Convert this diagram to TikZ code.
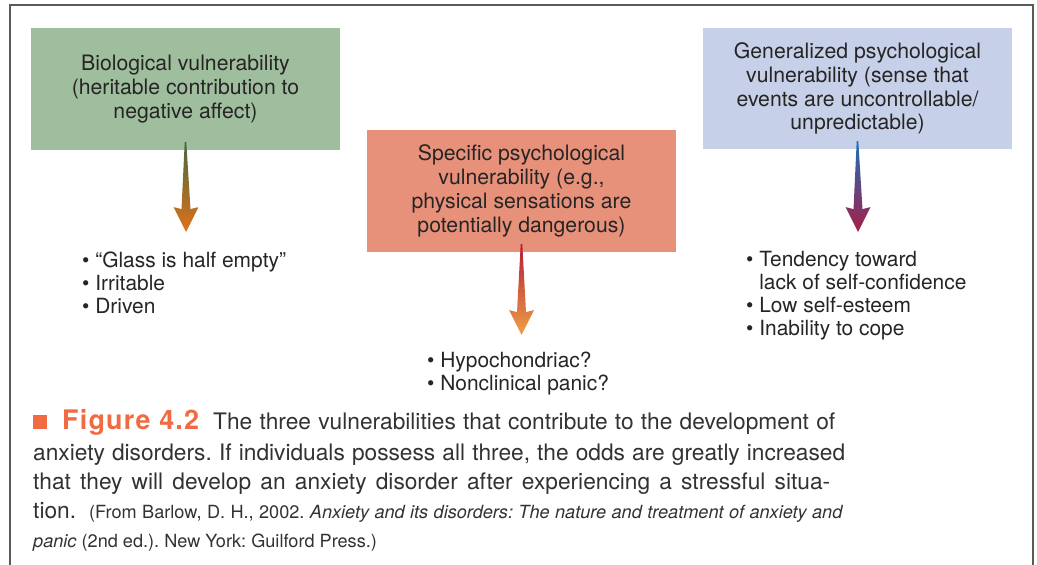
\documentclass[tikz,border=0pt]{standalone}
\usepackage{fontspec}
\setmainfont{TeX Gyre Heros}
\usetikzlibrary{calc}
\frenchspacing
\definecolor{boxgreen}{RGB}{159,190,157}
\definecolor{boxred}{RGB}{232,145,122}
\definecolor{boxblue}{RGB}{198,208,232}
\definecolor{figorange}{RGB}{240,106,66}
\definecolor{txt}{RGB}{38,36,36}
\definecolor{captxt}{RGB}{50,50,50}
\definecolor{framegray}{RGB}{90,90,90}
\definecolor{gA}{RGB}{70,105,60}
\definecolor{gB}{RGB}{222,114,28}
\definecolor{rA}{RGB}{178,28,52}
\definecolor{rB}{RGB}{238,160,72}
\definecolor{bA}{RGB}{28,112,184}
\definecolor{bB}{RGB}{166,30,72}
\newcommand{\gradarrow}[4]{%
  \shade[top color=#3,bottom color=#4]
    let \p1=(#1), \p2=(#2) in
    (\x1-0.8pt,\y1+8pt) -- (\x1+0.8pt,\y1+8pt) -- (\x2+4.5pt,\y2+23pt)
    -- (\x2+12.5pt,\y2+25pt) -- (\x2,\y2) -- (\x2-12.5pt,\y2+25pt)
    -- (\x2-4.5pt,\y2+23pt) -- cycle;}
\begin{document}
\begin{tikzpicture}[x=1bp,y=-1bp,
  vbox/.style={minimum width=309bp,minimum height=122bp,inner sep=0pt,
    align=center,text=txt,font=\fontsize{21.3}{24}\selectfont},
  item/.style={anchor=base west,inner sep=0pt,text=txt,font=\fontsize{21}{24}\selectfont},
  capline/.style={anchor=base west,inner sep=0pt,text=captxt,font=\fontsize{22.8}{29}\selectfont},
  cite/.style={font=\fontsize{18.2}{20}\selectfont}]
\useasboundingbox (0,0) rectangle (1037,565);
\fill[white] (0,0) rectangle (1037,565);
% frame
\draw[framegray,line width=1.3bp] (10,565) -- (10,5) -- (1033,5) -- (1033,565);
% boxes
\node[vbox,fill=boxgreen] (bio) at (185.5,89)
  {Biological vulnerability\\(heritable contribution to\\negative affect)};
\node[vbox,fill=boxred] (spec) at (521.5,191)
  {Specific psychological\\vulnerability (e.g.,\\physical sensations are\\potentially dangerous)};
\node[vbox,fill=boxblue,minimum height=121bp] (gen) at (857.5,88.5)
  {Generalized psychological\\vulnerability (sense that\\events are uncontrollable/\\unpredictable)};
% arrow tips
\coordinate (biotip) at (186,232);
\coordinate (spectip) at (521.5,335);
\coordinate (gentip) at (858,232);
\gradarrow{bio.south}{biotip}{gA}{gB}
\gradarrow{spec.south}{spectip}{rA}{rB}
\gradarrow{gen.south}{gentip}{bA}{bB}
% lists
\node[item] (b1) at (82,268) {\textbullet\ “Glass is half empty”};
\node[item] (b2) at (82,290.5) {\textbullet\ Irritable};
\node[item] (b3) at (82,313) {\textbullet\ Driven};
\node[item] (s1) at (427,367) {\textbullet\ Hypochondriac?};
\node[item] (s2) at (427,390.5) {\textbullet\ Nonclinical panic?};
\node[item] (g1) at (746,267) {\textbullet\ Tendency toward};
\node[item] (g2) at (746,290) {\phantom{\textbullet\ }lack of self-confidence};
\node[item] (g3) at (746,312.5) {\textbullet\ Low self-esteem};
\node[item] (g4) at (746,335) {\textbullet\ Inability to cope};
% caption
\node[capline] (c1) at (33,429) {\makebox[180bp][l]{\textcolor{figorange}{\rule{14bp}{14bp}\hspace{15bp}{\fontsize{27}{29}\selectfont\bfseries\addfontfeature{LetterSpace=4.5}Figure 4.2}}}\makebox[622bp][s]{The three vulnerabilities that contribute to the development of}};
\node[capline] (c2) at (33,460) {\makebox[812bp][s]{anxiety disorders. If individuals possess all three, the odds are greatly increased}};
\node[capline] (c3) at (33,489) {\makebox[797bp][s]{that they will develop an anxiety disorder after experiencing a stressful situa-}};
\node[capline] (c4) at (33,518) {\makebox[56bp][l]{tion.}{\fontsize{18.2}{20}\selectfont\makebox[754bp][s]{(From Barlow, D. H., 2002. \textit{Anxiety and its disorders: The nature and treatment of anxiety and}}}};
\node[capline,cite] (c5) at (33,547) {\textit{panic} (2nd ed.). New York: Guilford Press.)};
\end{tikzpicture}
\end{document}
